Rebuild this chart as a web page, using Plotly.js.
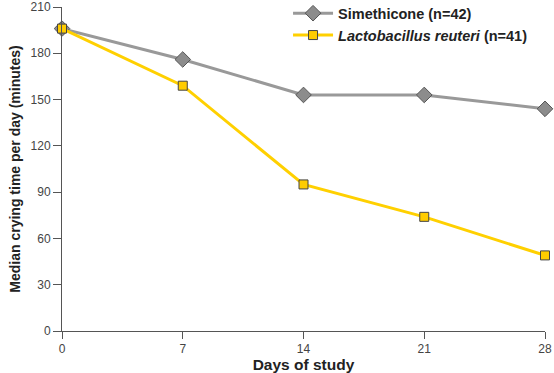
<!DOCTYPE html>
<html><head><meta charset="utf-8">
<script src="https://cdn.plot.ly/plotly-3.0.1.min.js"></script>
<style>html,body{margin:0;padding:0;background:#fff}#chart{width:554px;height:373px}</style>
</head><body><div id="chart"></div>
<script>
const days = [0, 7, 14, 21, 28];
const simethicone = [196, 176, 153, 153, 144];
const lactobacillus = [196, 159, 95, 74, 49];
const seriesNames = ["<b>Simethicone (n=42)</b>", "<b><i>Lactobacillus reuteri</i> (n=41)</b>"];
const yTicks = [0, 30, 60, 90, 120, 150, 180, 210];

const traces = [
  {x: days, y: simethicone, name: seriesNames[0], mode: 'lines+markers', cliponaxis: false,
   line: {color: '#999999', width: 3},
   marker: {symbol: 'diamond', size: 12, color: '#8c8c8c', line: {color: '#555', width: 1}}},
  {x: days, y: lactobacillus, name: seriesNames[1], mode: 'lines+markers', cliponaxis: false,
   line: {color: '#FFD000', width: 3},
   marker: {symbol: 'square', size: 9, color: '#FFCC00', line: {color: '#444', width: 1}}}
];
const layout = {
  width: 554, height: 373,
  margin: {l: 62, r: 9, t: 7, b: 42, autoexpand: false},
  paper_bgcolor: '#fff', plot_bgcolor: '#fff',
  font: {family: 'Liberation Sans, Arial, sans-serif', color: '#444', size: 12},
  showlegend: true,
  legend: {x: 0.468, y: 1.03, xanchor: 'left', yanchor: 'top', bgcolor: 'rgba(0,0,0,0)',
    font: {size: 14.5, color: '#222'}, tracegroupgap: 0, itemwidth: 40},
  xaxis: {range: [0, 28], tickvals: days, ticks: 'outside', ticklen: 7, tickcolor: '#555',
    showline: true, linecolor: '#555', linewidth: 1, showgrid: false, zeroline: false,
    automargin: false,
    tickfont: {size: 12, color: '#444'},
    title: {text: '<b>Days of study</b>', font: {size: 15.5, color: '#222'}, standoff: 0}},
  yaxis: {range: [0, 210], tickvals: yTicks, ticks: 'outside', ticklen: 8, tickcolor: '#555',
    showline: true, linecolor: '#555', linewidth: 1, showgrid: false, zeroline: false,
    automargin: false,
    tickfont: {size: 12, color: '#444'},
    title: {text: '<b>Median crying time per day (minutes)</b>', font: {size: 14, color: '#222'}, standoff: 6}}
};
Plotly.newPlot('chart', traces, layout, {displayModeBar: false, staticPlot: true});
</script></body></html>
